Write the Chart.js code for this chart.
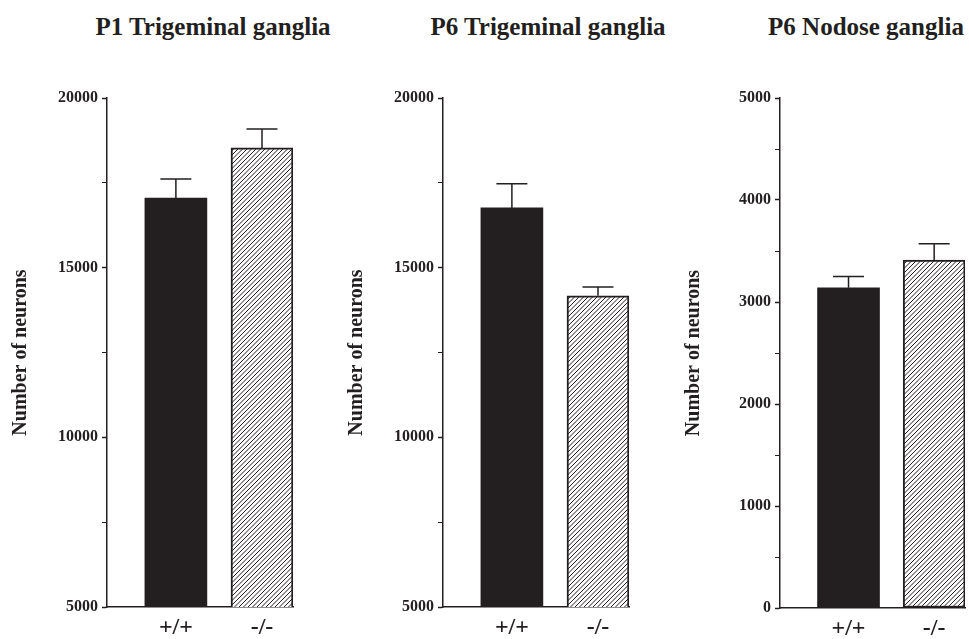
<!DOCTYPE html>
<html>
<head>
<meta charset="utf-8">
<title>Number of neurons</title>
<script src="https://cdn.jsdelivr.net/npm/chart.js@4.4.1/dist/chart.umd.min.js"></script>
<style>
    body { margin: 0; background: #fff; width: 969px; height: 639px; position: relative; overflow: hidden; }
    canvas { position: absolute; top: 0; }
    .panel-title {
        position: absolute; top: 14px; transform: translateX(-50%);
        font: bold 25px "Liberation Serif", "Times New Roman", serif;
        line-height: 25px; color: #231f20; white-space: nowrap;
    }
</style>
</head>
<body>
<div class="panel-title" style="left:213px">P1 Trigeminal ganglia</div>
<div class="panel-title" style="left:548px">P6 Trigeminal ganglia</div>
<div class="panel-title" style="left:866px">P6 Nodose ganglia</div>

<canvas id="p1-trigeminal" width="300" height="639" style="left:0px"></canvas>
<canvas id="p6-trigeminal" width="304" height="639" style="left:336px"></canvas>
<canvas id="p6-nodose" width="296" height="639" style="left:673px"></canvas>

<script>
const genotypes = ['+/+', '-/-'];

const p1TrigValues = [17050, 18530];
const p1TrigErrors = [560, 560];

const p6TrigValues = [16760, 14170];
const p6TrigErrors = [710, 260];

const p6NodValues = [3140, 3410];
const p6NodErrors = [110, 160];

const trigTicks = [5000, 10000, 15000, 20000];
const nodTicks = [0, 1000, 2000, 3000, 4000, 5000];

const ink = '#231f20';
const serif = '"Liberation Serif", "Times New Roman", serif';

// diagonal hatch for the -/- bars
function makeHatch() {
    let c = document.createElement('canvas');
    c.width = 9;
    c.height = 9;
    let g = c.getContext('2d');
    g.fillStyle = '#fff';
    g.fillRect(0, 0, 9, 9);
    g.strokeStyle = ink;
    g.lineWidth = 1;
    g.beginPath();
    for (let k = -9; k <= 18; k += 4.5) {
        g.moveTo(k, 9);
        g.lineTo(k + 9, 0);
    }
    g.stroke();
    return g.createPattern(c, 'repeat');
}
const hatch = makeHatch();

// upper error bar (SEM) on each bar
const errorBars = {
    id: 'errorBars',
    afterDatasetsDraw(chart, args, opts) {
        const ctx = chart.ctx;
        const yScale = chart.scales.y;
        const ds = chart.data.datasets[0];
        chart.getDatasetMeta(0).data.forEach((bar, i) => {
            let errTop = yScale.getPixelForValue(ds.data[i].y + opts.errors[i]);
            ctx.save();
            ctx.strokeStyle = ink;
            ctx.lineWidth = 1.5;
            ctx.beginPath();
            ctx.moveTo(bar.x, bar.y);
            ctx.lineTo(bar.x, errTop);
            ctx.moveTo(bar.x - 15.5, errTop);
            ctx.lineTo(bar.x + 15.5, errTop);
            ctx.stroke();
            ctx.restore();
        });
    }
};

function makePanel(id, values, errors, ticks, rightPad, axisHeight) {
    return new Chart(document.getElementById(id), {
        type: 'bar',
        data: {
            datasets: [{
                data: values.map((v, i) => ({ x: i + 1, y: v })),
                backgroundColor: [ink, hatch],
                borderColor: ink,
                borderWidth: [0, 2],
                borderSkipped: false,
                barThickness: 62
            }]
        },
        plugins: [errorBars],
        options: {
            responsive: false,
            animation: false,
            devicePixelRatio: 1,
            layout: { padding: { top: 98, right: rightPad, bottom: 0, left: 0 } },
            plugins: {
                legend: { display: false },
                tooltip: { enabled: false },
                errorBars: { errors: errors }
            },
            scales: {
                x: {
                    type: 'linear',
                    offset: false,
                    min: 0.2,
                    max: 2.36,
                    afterBuildTicks: (s) => { s.ticks = genotypes.map((g, i) => ({ value: i + 1 })); },
                    afterFit: (s) => { s.height = axisHeight; },
                    ticks: {
                        autoSkip: false,
                        maxRotation: 0,
                        padding: 6,
                        color: ink,
                        font: { family: serif, size: 24, weight: 'bold' },
                        callback: (v, i) => genotypes[i]
                    },
                    grid: { display: false, drawTicks: false, offset: false },
                    border: { color: ink, width: 1.5 }
                },
                y: {
                    min: ticks[0],
                    max: ticks[ticks.length - 1],
                    afterFit: (s) => { s.width = 107; },
                    ticks: {
                        stepSize: (ticks[1] - ticks[0]) / 2,
                        autoSkip: false,
                        padding: 4,
                        color: ink,
                        font: { family: serif, size: 16, weight: 'bold' },
                        callback: (v) => ticks.includes(v) ? v : ''
                    },
                    grid: {
                        drawOnChartArea: false,
                        drawTicks: true,
                        tickLength: 5,
                        tickColor: ink,
                        tickWidth: (c) => (c.tick && ticks.includes(c.tick.value)) ? 1.5 : 1
                    },
                    border: { color: ink, width: 1.5 },
                    title: {
                        display: true,
                        text: 'Number of neurons',
                        color: ink,
                        font: { family: serif, size: 20, weight: 'bold' },
                        padding: { top: 9, bottom: 0 }
                    }
                }
            }
        }
    });
}

makePanel('p1-trigeminal', p1TrigValues, p1TrigErrors, trigTicks, 7, 32);
makePanel('p6-trigeminal', p6TrigValues, p6TrigErrors, trigTicks, 11, 32);
makePanel('p6-nodose', p6NodValues, p6NodErrors, nodTicks, 4, 31);
</script>
</body>
</html>
